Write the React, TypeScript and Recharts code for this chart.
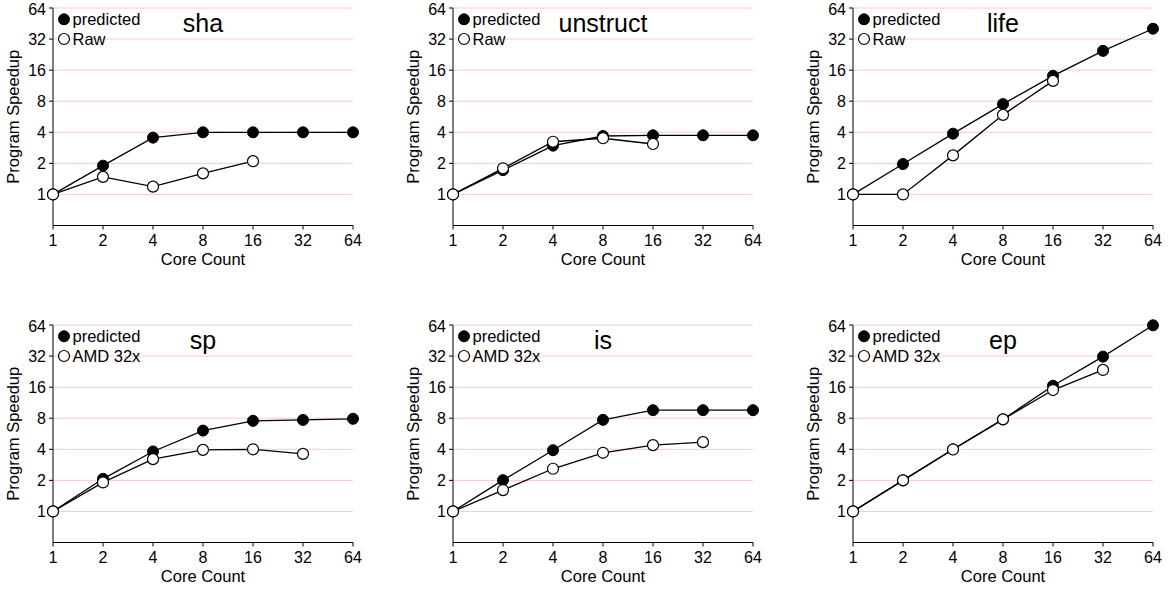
import { LineChart, Line, XAxis, YAxis, CartesianGrid } from "recharts"

// x positions (core counts) and y tick labels, both log2
const coreCounts = [1, 2, 4, 8, 16, 32, 64]
const speedupTicks = [1, 2, 4, 8, 16, 32, 64]

// one value per core count (missing = not measured)
const shaPredicted = [1, 1.9, 3.55, 4, 4, 4, 4]
const shaRaw = [1, 1.48, 1.19, 1.6, 2.1]
const unstructPredicted = [1, 1.72, 2.97, 3.68, 3.74, 3.74, 3.74]
const unstructRaw = [1, 1.79, 3.24, 3.5, 3.08]
const lifePredicted = [1, 1.97, 3.88, 7.5, 14.1, 24.6, 40.3]
const lifeRaw = [1, 1, 2.39, 5.9, 12.6]
const spPredicted = [1, 2.07, 3.81, 6.07, 7.55, 7.7, 7.9]
const spAmd = [1, 1.91, 3.21, 3.95, 4.0, 3.61]
const isPredicted = [1, 2.01, 3.92, 7.71, 9.57, 9.57, 9.57]
const isAmd = [1, 1.61, 2.59, 3.7, 4.39, 4.69]
const epPredicted = [1, 2, 4, 7.8, 16.5, 31.6, 63.6]
const epAmd = [1, 2, 3.98, 7.8, 15.0, 23.5]

const FONT = "'Liberation Sans', Arial, sans-serif"
const GRID = "#ffc8c8"

type PanelProps = {
  title: string
  measuredName: string
  predicted: number[]
  measured: number[]
  left: number
  top: number
}

function Panel({ title, measuredName, predicted, measured, left, top }: PanelProps) {
  const data = coreCounts.map((c, i) => ({
    cores: c,
    predicted: predicted[i] ?? null,
    measured: measured[i] ?? null,
  }))

  const plotLeft = 53
  const plotTop = 8
  const plotW = 300

  return (
    <div style={{ position: "absolute", left, top, width: 368, height: 290 }}>
      <LineChart
        width={368}
        height={290}
        data={data}
        margin={{ top: 8, right: 15, left: 8, bottom: 19.5 }}
        style={{ fontFamily: FONT }}
      >
        <CartesianGrid vertical={false} stroke={GRID} strokeWidth={1} />
        <XAxis
          dataKey="cores"
          type="number"
          scale="log"
          domain={[1, 64]}
          ticks={coreCounts}
          height={45}
          stroke="#000"
          fontSize={16}
          tickSize={4}
          tickMargin={5}
          tick={{ fill: "#000", fontSize: 16, fontFamily: FONT }}
          label={({ viewBox }: any) => (
            <text
              x={viewBox.x + viewBox.width / 2}
              y={viewBox.y + 39.5}
              textAnchor="middle"
              fontSize={16.5}
              fontFamily={FONT}
              fill="#000"
            >
              Core Count
            </text>
          )}
        />
        <YAxis
          type="number"
          scale="log"
          domain={[0.5, 64]}
          ticks={speedupTicks}
          width={45}
          stroke="#000"
          fontSize={16}
          tickSize={4}
          tickMargin={3}
          tick={{ fill: "#000", fontSize: 16, fontFamily: FONT }}
          label={({ viewBox }: any) => (
            <text
              transform={`translate(${viewBox.x + 11}, ${viewBox.y + viewBox.height / 2}) rotate(-90)`}
              textAnchor="middle"
              fontSize={16.5}
              fontFamily={FONT}
              fill="#000"
            >
              Program Speedup
            </text>
          )}
        />
        <Line
          type="linear"
          dataKey="predicted"
          name="predicted"
          stroke="#000"
          strokeWidth={1.3}
          dot={{ r: 5.5, fill: "#000", stroke: "#000", strokeWidth: 1 }}
          isAnimationActive={false}
        />
        <Line
          type="linear"
          dataKey="measured"
          name={measuredName}
          stroke="#000"
          strokeWidth={1.3}
          dot={{ r: 5.5, fill: "#fff", stroke: "#000", strokeWidth: 1.2 }}
          isAnimationActive={false}
        />
      </LineChart>
      {/* legend and benchmark name, drawn over the plot */}
      <svg
        width={368}
        height={290}
        style={{ position: "absolute", left: 0, top: 0, pointerEvents: "none", fontFamily: FONT }}
      >
        <circle cx={plotLeft + 11} cy={plotTop + 11.3} r={5.5} fill="#000" stroke="#000" />
        <text x={plotLeft + 19.5} y={plotTop + 11.3} dy="0.36em" fontSize={16.5} fill="#000">
          predicted
        </text>
        <circle cx={plotLeft + 11} cy={plotTop + 31} r={5.5} fill="#fff" stroke="#000" strokeWidth={1.2} />
        <text x={plotLeft + 19.5} y={plotTop + 31} dy="0.36em" fontSize={16.5} fill="#000">
          {measuredName}
        </text>
        <text x={plotLeft + plotW / 2} y={plotTop + 23.7} textAnchor="middle" fontSize={25} fill="#000">
          {title}
        </text>
      </svg>
    </div>
  )
}

export default function App() {
  return (
    <div style={{ position: "absolute", left: 0, top: 0, width: 1168, height: 590, background: "#fff" }}>
      <Panel title="sha" measuredName="Raw" predicted={shaPredicted} measured={shaRaw} left={0} top={0} />
      <Panel title="unstruct" measuredName="Raw" predicted={unstructPredicted} measured={unstructRaw} left={400} top={0} />
      <Panel title="life" measuredName="Raw" predicted={lifePredicted} measured={lifeRaw} left={800} top={0} />
      <Panel title="sp" measuredName="AMD 32x" predicted={spPredicted} measured={spAmd} left={0} top={317} />
      <Panel title="is" measuredName="AMD 32x" predicted={isPredicted} measured={isAmd} left={400} top={317} />
      <Panel title="ep" measuredName="AMD 32x" predicted={epPredicted} measured={epAmd} left={800} top={317} />
    </div>
  )
}
